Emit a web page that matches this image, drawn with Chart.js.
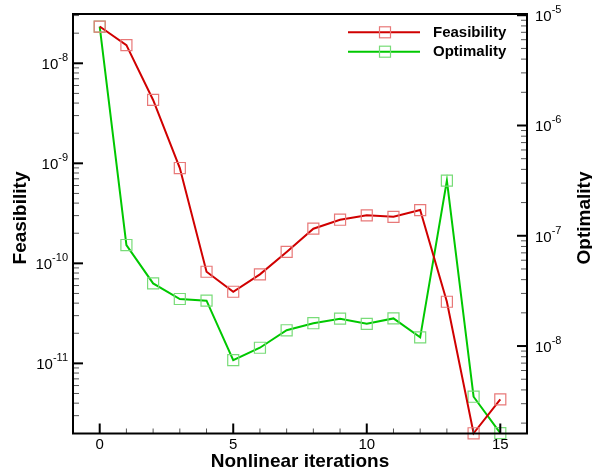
<!DOCTYPE html>
<html>
<head>
<meta charset="utf-8">
<script src="https://cdn.jsdelivr.net/npm/chart.js@4/dist/chart.umd.min.js"></script>
<style>
  html, body { margin: 0; padding: 0; background: #ffffff; }
  #wrap { width: 592px; height: 476px; }
</style>
</head>
<body>
<div id="wrap"><canvas id="c" width="592" height="476"></canvas></div>
<script>
// ---- data ----
const iterations = [0, 1, 2, 3, 4, 5, 6, 7, 8, 9, 10, 11, 12, 13, 14, 15];
const feasibility = [2.33e-8, 1.52e-8, 4.3e-9, 8.97e-10, 8.24e-11, 5.2e-11, 7.76e-11, 1.30e-10,
                     2.22e-10, 2.73e-10, 3.02e-10, 2.92e-10, 3.41e-10, 4.13e-11, 2.0e-12, 4.36e-12];
const optimality = [7.9e-6, 8.24e-8, 3.7e-8, 2.67e-8, 2.58e-8, 7.46e-9, 9.65e-9, 1.39e-8,
                    1.61e-8, 1.77e-8, 1.59e-8, 1.78e-8, 1.2e-8, 3.16e-7, 3.47e-9, 1.62e-9];
const xTicks = [0, 5, 10, 15];
const feasTicks = [1e-11, 1e-10, 1e-9, 1e-8];
const optTicks = [1e-8, 1e-7, 1e-6, 1e-5];
const seriesNames = ['Feasibility', 'Optimality'];
const xTitle = 'Nonlinear iterations';

const FONT = '"Liberation Sans", Arial, Helvetica, sans-serif';
const RED = '#d00000', GREEN = '#00c800';
const RED_MK = '#e87878', GREEN_MK = '#78dc78';

function drawSquare(ctx, x, y, side, color) {
  ctx.save();
  ctx.strokeStyle = color; ctx.lineWidth = 1.2;
  ctx.strokeRect(x - side / 2, y - side / 2, side, side);
  ctx.restore();
}

function powLabel(ctx, v, x, y, align) {
  const exp = String(Math.round(Math.log10(v)));
  ctx.save();
  ctx.fillStyle = '#000';
  ctx.textBaseline = 'alphabetic';
  ctx.font = '15px ' + FONT;
  const wBase = ctx.measureText('10').width;
  ctx.font = '11px ' + FONT;
  const wExp = ctx.measureText(exp).width;
  let x0 = align === 'right' ? x - wBase - wExp : x;
  ctx.textAlign = 'left';
  ctx.font = '15px ' + FONT;
  ctx.fillText('10', x0, y + 6);
  ctx.font = '11px ' + FONT;
  ctx.fillText(exp, x0 + wBase, y - 2);
  ctx.restore();
}

const decor = {
  id: 'decor',
  afterDraw(chart) {
    const ctx = chart.ctx;
    const { left, right, top, bottom } = chart.chartArea;
    const sx = chart.scales.x, yl = chart.scales.yL, yr = chart.scales.yR;
    ctx.save();
    // ticks
    ctx.lineCap = 'butt';
    // x major/minor
    for (let v = Math.ceil(sx.min); v <= Math.floor(sx.max); v++) {
      const px = sx.getPixelForValue(v);
      if (px <= left + 1 || px >= right - 1) continue;
      const major = xTicks.includes(v);
      ctx.strokeStyle = major ? '#000' : '#555';
      ctx.lineWidth = major ? 2 : 1;
      ctx.beginPath();
      ctx.moveTo(px, bottom); ctx.lineTo(px, bottom - (major ? 10 : 5));
      ctx.stroke();
    }
    // log axes
    function logTicks(scale, majors, xEdge, dir) {
      const n0 = Math.floor(Math.log10(scale.min)), n1 = Math.ceil(Math.log10(scale.max));
      for (let n = n0; n <= n1; n++) {
        for (let k = 1; k <= 9; k++) {
          const v = k * Math.pow(10, n);
          if (v < scale.min || v > scale.max) continue;
          const py = scale.getPixelForValue(v);
          if (py <= top + 1 || py >= bottom - 1) continue;
          const major = k === 1;
          ctx.strokeStyle = major ? '#000' : '#555';
          ctx.lineWidth = major ? 2 : 1;
          ctx.beginPath();
          ctx.moveTo(xEdge, py); ctx.lineTo(xEdge + dir * (major ? 10 : 6), py);
          ctx.stroke();
        }
      }
    }
    logTicks(yl, feasTicks, left, 1);
    logTicks(yr, optTicks, right, -1);
    // frame
    ctx.strokeStyle = '#000'; ctx.lineWidth = 2;
    ctx.strokeRect(left, top, right - left, bottom - top);
    // tick labels
    ctx.fillStyle = '#000';
    ctx.font = '15px ' + FONT;
    ctx.textAlign = 'center'; ctx.textBaseline = 'middle';
    xTicks.forEach(v => ctx.fillText(String(v), sx.getPixelForValue(v), 445));
    feasTicks.forEach(v => powLabel(ctx, v, left - 5, yl.getPixelForValue(v), 'right'));
    optTicks.forEach(v => powLabel(ctx, v, right + 8, yr.getPixelForValue(v), 'left'));
    // axis titles
    ctx.font = 'bold 19px ' + FONT;
    ctx.textAlign = 'center'; ctx.textBaseline = 'alphabetic';
    ctx.fillText(xTitle, (left + right) / 2, 466.5);
    ctx.save();
    ctx.translate(26, 218); ctx.rotate(-Math.PI / 2);
    ctx.fillText(seriesNames[0], 0, 0);
    ctx.restore();
    ctx.save();
    ctx.translate(590, 218); ctx.rotate(-Math.PI / 2);
    ctx.fillText(seriesNames[1], 0, 0);
    ctx.restore();
    // legend
    const leg = [[RED, RED_MK, 32.3], [GREEN, GREEN_MK, 51.7]];
    leg.forEach((l, i) => {
      ctx.strokeStyle = l[0]; ctx.lineWidth = 2;
      ctx.beginPath(); ctx.moveTo(348, l[2]); ctx.lineTo(420, l[2]); ctx.stroke();
      drawSquare(ctx, 385, l[2], 11, l[1]);
      ctx.fillStyle = '#000';
      ctx.font = 'bold 15px ' + FONT;
      ctx.textAlign = 'left'; ctx.textBaseline = 'middle';
      ctx.fillText(seriesNames[i], 433, l[2] + 0.5);
    });
    ctx.restore();
  }
};

new Chart(document.getElementById('c'), {
  type: 'line',
  data: {
    datasets: [
      {
        label: seriesNames[0],
        data: iterations.map((x, i) => ({ x: x, y: feasibility[i] })),
        yAxisID: 'yL',
        borderColor: RED, borderWidth: 2,
        pointStyle: 'rect', pointRadius: 7.8,
        pointBorderColor: RED_MK, pointBackgroundColor: 'rgba(0,0,0,0)', pointBorderWidth: 1.2,
        tension: 0, clip: false
      },
      {
        label: seriesNames[1],
        data: iterations.map((x, i) => ({ x: x, y: optimality[i] })),
        yAxisID: 'yR',
        borderColor: GREEN, borderWidth: 2,
        pointStyle: 'rect', pointRadius: 7.8,
        pointBorderColor: GREEN_MK, pointBackgroundColor: 'rgba(0,0,0,0)', pointBorderWidth: 1.2,
        tension: 0, clip: false
      }
    ]
  },
  options: {
    responsive: false,
    animation: false,
    devicePixelRatio: 1,
    layout: { padding: { top: 14, left: 0, right: 0, bottom: 0 } },
    plugins: { legend: { display: false }, tooltip: { enabled: false } },
    scales: {
      x: {
        type: 'linear', min: -1, max: 16,
        grid: { display: false }, border: { display: false }, ticks: { display: false },
        afterFit(s) { s.height = 42.5; }
      },
      yL: {
        type: 'logarithmic', position: 'left', min: 1.99e-12, max: 3.11e-8,
        grid: { display: false }, border: { display: false }, ticks: { display: false },
        afterFit(s) { s.width = 73; }
      },
      yR: {
        type: 'logarithmic', position: 'right', min: 1.61e-9, max: 1.026e-5,
        grid: { display: false }, border: { display: false }, ticks: { display: false },
        afterFit(s) { s.width = 65; }
      }
    }
  },
  plugins: [decor]
});
</script>
</body>
</html>
